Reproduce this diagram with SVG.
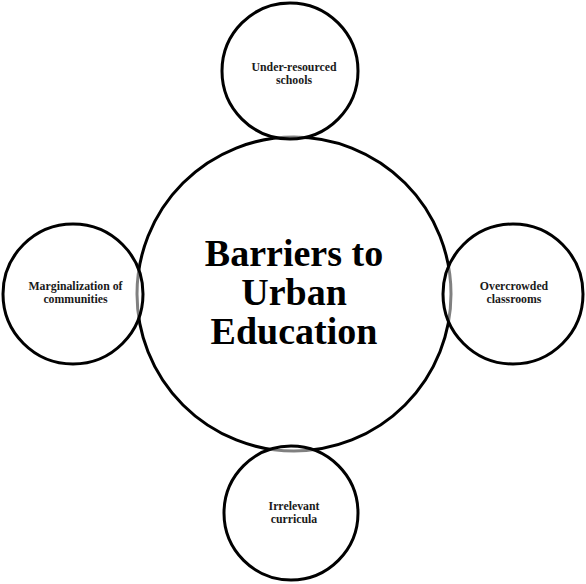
<svg xmlns="http://www.w3.org/2000/svg" width="586" height="584" viewBox="0 0 586 584">
  <style>
    .ring { stroke: #000; stroke-width: 3; }
    .hub { fill: #fff; }
    .spoke { fill: #fff; fill-opacity: 0.5; }
    .label { font-family: "Liberation Serif", "Times New Roman", serif; font-weight: bold; fill: #1a1a1a; text-anchor: middle; }
    .small { font-size: 11.8px; }
    .big { font-size: 38px; fill: #000; }
  </style>
  <rect width="586" height="584" fill="#fff"/>

  <!-- central hub -->
  <g id="hub">
    <circle class="ring hub" cx="294" cy="294" r="157"/>
    <text class="label big" x="294" y="265.5">Barriers to</text>
    <text class="label big" x="294" y="304.5">Urban</text>
    <text class="label big" x="294" y="343.5">Education</text>
  </g>

  <!-- satellite circles; translucent fill greys the hub outline where they overlap -->
  <g id="under-resourced">
    <circle class="ring spoke" cx="290" cy="71" r="68"/>
    <text class="label small" x="294" y="71">Under-resourced</text>
    <text class="label small" x="294" y="84.1">schools</text>
  </g>

  <g id="marginalization">
    <circle class="ring spoke" cx="73" cy="294" r="70"/>
    <text class="label small" x="75.5" y="289.5">Marginalization of</text>
    <text class="label small" x="75.5" y="302.6">communities</text>
  </g>

  <g id="overcrowded">
    <circle class="ring spoke" cx="513" cy="294" r="70"/>
    <text class="label small" x="514" y="289.5">Overcrowded</text>
    <text class="label small" x="514" y="302.6">classrooms</text>
  </g>

  <g id="irrelevant">
    <circle class="ring spoke" cx="291" cy="513" r="67"/>
    <text class="label small" x="294" y="509.5">Irrelevant</text>
    <text class="label small" x="294" y="522.6">curricula</text>
  </g>

  <g id="connectors"/>
</svg>
